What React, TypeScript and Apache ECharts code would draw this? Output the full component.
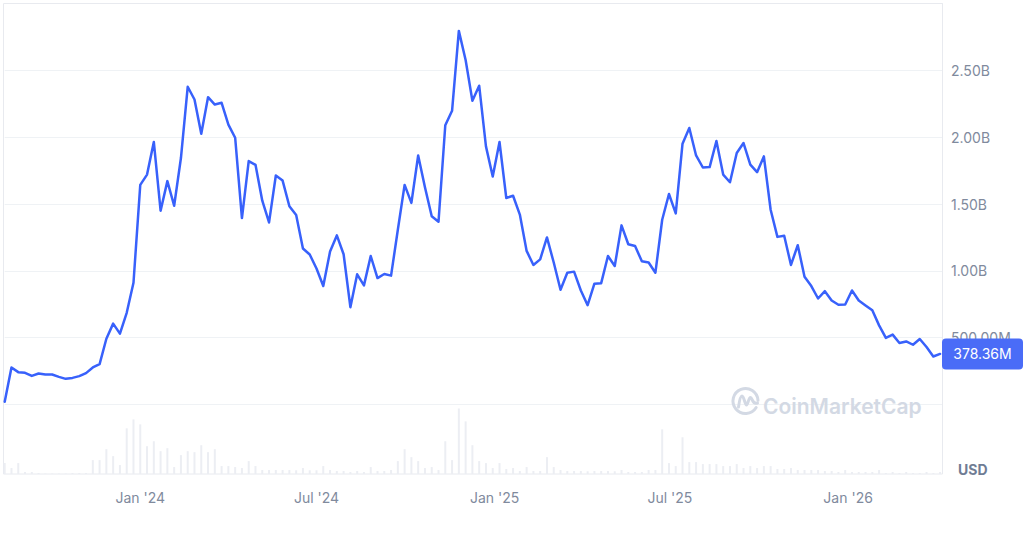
import React, { useEffect, useRef } from "react";
import * as echarts from "echarts";

// Weekly series starting 2023-08-14
const startDate = "2023-08-14";
const stepDays = 7;

// Market value, in billions USD (one point per week)
const priceB = [
  0.021, 0.277, 0.242, 0.237, 0.214, 0.232, 0.224, 0.224, 0.207, 0.192,
  0.199, 0.212, 0.235, 0.277, 0.302, 0.492, 0.605, 0.530, 0.686, 0.911,
  1.643, 1.720, 1.964, 1.450, 1.671, 1.487, 1.844, 2.377, 2.282, 2.026,
  2.299, 2.244, 2.257, 2.094, 1.996, 1.395, 1.821, 1.793, 1.525, 1.362,
  1.713, 1.675, 1.483, 1.417, 1.167, 1.122, 1.017, 0.886, 1.144, 1.265,
  1.124, 0.728, 0.974, 0.891, 1.111, 0.946, 0.976, 0.964, 1.307, 1.643,
  1.508, 1.863, 1.626, 1.408, 1.367, 2.089, 2.197, 2.795, 2.577, 2.272,
  2.385, 1.931, 1.705, 1.964, 1.545, 1.562, 1.421, 1.149, 1.044, 1.086,
  1.250, 1.062, 0.859, 0.986, 0.994, 0.853, 0.743, 0.904, 0.908, 1.111,
  1.036, 1.340, 1.199, 1.186, 1.071, 1.062, 0.986, 1.382, 1.575, 1.430,
  1.951, 2.069, 1.863, 1.773, 1.776, 1.971, 1.720, 1.663, 1.881, 1.956,
  1.795, 1.738, 1.856, 1.457, 1.254, 1.262, 1.044, 1.192, 0.956, 0.886,
  0.793, 0.848, 0.778, 0.746, 0.748, 0.853, 0.778, 0.741, 0.705, 0.592,
  0.498, 0.523, 0.460, 0.472, 0.447, 0.490, 0.430, 0.359, 0.37836,
];

// Weekly volume, in millions USD
const volumeM = [
  44, 24, 44, 8, 8, 4, 2, 2, 2, 2,
  4, 4, 4, 56, 56, 100, 72, 36, 184, 220,
  200, 112, 132, 92, 104, 28, 76, 92, 88, 116,
  88, 100, 32, 32, 28, 24, 52, 32, 16, 16,
  16, 16, 16, 15, 24, 15, 15, 32, 16, 12,
  12, 8, 12, 8, 28, 12, 12, 16, 52, 100,
  68, 52, 24, 28, 16, 132, 56, 264, 212, 116,
  52, 44, 24, 44, 20, 24, 12, 28, 12, 12,
  68, 28, 16, 12, 12, 12, 11, 12, 12, 12,
  11, 16, 8, 8, 8, 16, 16, 180, 44, 32,
  148, 48, 48, 40, 40, 40, 32, 32, 40, 24,
  32, 24, 32, 32, 20, 20, 24, 16, 16, 16,
  16, 12, 12, 8, 16, 8, 8, 8, 8, 16,
  4, 8, 4, 8, 4, 4, 8, 4, 8,
];

const xTickDates = ["2024-01-01", "2024-07-01", "2025-01-01", "2025-07-01", "2026-01-01"];
const xTickLabels = ["Jan '24", "Jul '24", "Jan '25", "Jul '25", "Jan '26"];
const currentLabel = "378.36M";
const unitLabel = "USD";
const watermarkText = "CoinMarketCap";

const DAY = 86400000;

function fmtPrice(v: number): string {
  if (v >= 1) return v.toFixed(2) + "B";
  return (v * 1000).toFixed(2) + "M";
}

echarts.graphic.registerShape(
  "cmcWave",
  echarts.graphic.extendPath(
    "M-7,6 C-6,-1 -5,-5 -3.5,-5 C-1.5,-5 -0.5,4 1,4 C2.5,4 3,-3.5 5,-3.5 C7,-3.5 6.5,4 12,2",
    {}
  )
);

export default function App() {
  const ref = useRef<HTMLDivElement>(null);

  useEffect(() => {
    if (!ref.current) return;
    const chart = echarts.init(ref.current, null, { renderer: "svg" });
    const start = Date.parse(startDate);
    const dates = priceB.map((_, i) => start + i * stepDays * DAY);
    const xMin = dates[0];
    const xMax = dates[dates.length - 1] + 3 * DAY;
    const tickValues = xTickDates.map((d) => Date.parse(d));
    const labelColor = "#808a9d";
    const font = "Inter, 'Noto Sans', sans-serif";

    chart.setOption({
      animation: false,
      backgroundColor: "#ffffff",
      grid: [
        { left: 4.7, right: 81, top: 3.5, bottom: 132.5, outerBoundsMode: "none", containLabel: false },
        { left: 4.7, right: 81, top: 404.5, bottom: 63, outerBoundsMode: "none", containLabel: false },
      ],
      xAxis: [
        {
          type: "value",
          gridIndex: 0,
          min: xMin,
          max: xMax,
          show: false,
          splitLine: { show: false },
        },
        {
          type: "value",
          gridIndex: 1,
          min: xMin,
          max: xMax,
          axisLine: { show: false },
          axisTick: { show: false },
          splitLine: { show: false },
          axisLabel: {
            show: true,
            customValues: tickValues,
            margin: 16,
            color: labelColor,
            fontSize: 14,
            fontFamily: font,
            formatter: (v: number) => {
              const i = tickValues.findIndex((t) => Math.abs(t - v) < DAY);
              return i >= 0 ? xTickLabels[i] : "";
            },
          },
        },
      ],
      yAxis: [
        {
          type: "value",
          gridIndex: 0,
          position: "right",
          min: 0,
          max: 3,
          interval: 0.5,
          axisLine: { show: false },
          axisTick: { show: false },
          splitLine: { show: true, lineStyle: { color: "#eff2f5", width: 1 } },
          axisLabel: {
            margin: 8,
            color: labelColor,
            fontSize: 14,
            fontFamily: font,
            formatter: (v: number) => (v <= 0 || v >= 3 ? "" : fmtPrice(v)),
          },
        },
        {
          type: "value",
          gridIndex: 1,
          min: 0,
          max: 280,
          show: false,
          splitLine: { show: false },
        },
      ],
      series: [
        {
          type: "bar",
          xAxisIndex: 1,
          yAxisIndex: 1,
          barWidth: 2,
          itemStyle: { color: "#eceef3" },
          data: dates.map((d, i) => [d, volumeM[i]]),
          silent: true,
        },
        {
          type: "line",
          xAxisIndex: 0,
          yAxisIndex: 0,
          showSymbol: false,
          symbol: "none",
          lineStyle: { color: "#3861fb", width: 2.5, join: "round", cap: "round" },
          data: dates.map((d, i) => [d, priceB[i]]),
          z: 5,
        },
      ],
    });

    const last = chart.convertToPixel({ xAxisIndex: 0, yAxisIndex: 0 }, [
      dates[dates.length - 1],
      priceB[priceB.length - 1],
    ]) as number[];
    const tagY = last[1];
    const wmColor = "#d3d9e4";

    chart.setOption({
      graphic: [
        {
          type: "rect",
          id: "box",
          z: 0,
          silent: true,
          shape: { x: 3.5, y: 3.5, width: 939, height: 470.5 },
          style: { fill: "none", stroke: "#e8eaef", lineWidth: 1 },
        },
        {
          type: "group",
          id: "wm",
          z: 1,
          silent: true,
          children: [
            {
              type: "arc",
              shape: { cx: 745.5, cy: 401, r: 12.5, startAngle: 0.55, endAngle: Math.PI * 2 - 0.05 },
              style: { stroke: wmColor, lineWidth: 3, fill: "none", lineCap: "round" },
            },
            {
              type: "cmcWave",
              x: 745.5,
              y: 401,
              style: { stroke: wmColor, lineWidth: 3, fill: "none", lineCap: "round", lineJoin: "round" },
            },
            {
              type: "text",
              x: 763,
              y: 406,
              style: {
                text: watermarkText,
                fill: wmColor,
                font: "600 21px Inter, 'Noto Sans', sans-serif",
                verticalAlign: "middle",
                align: "left",
              },
            },
          ],
        },
        {
          type: "text",
          id: "usd",
          x: 958,
          y: 469,
          z: 10,
          style: {
            text: unitLabel,
            fill: "#6f7c94",
            font: "bold 14px Inter, 'Noto Sans', sans-serif",
            verticalAlign: "middle",
            align: "left",
          },
        },
        {
          type: "rect",
          id: "tag",
          z: 20,
          shape: { x: 942, y: tagY - 15.5, width: 81, height: 31, r: 4 },
          style: { fill: "#4a6cf7" },
        },
        {
          type: "text",
          id: "tagText",
          z: 21,
          x: 982.5,
          y: tagY,
          style: {
            text: currentLabel,
            fill: "#ffffff",
            font: "14px Inter, 'Noto Sans', sans-serif",
            align: "center",
            verticalAlign: "middle",
          },
        },
      ],
    });

    return () => chart.dispose();
  }, []);

  return (
    <div
      ref={ref}
      style={{ position: "fixed", left: 0, top: 0, width: 1024, height: 537, background: "#fff" }}
    />
  );
}
